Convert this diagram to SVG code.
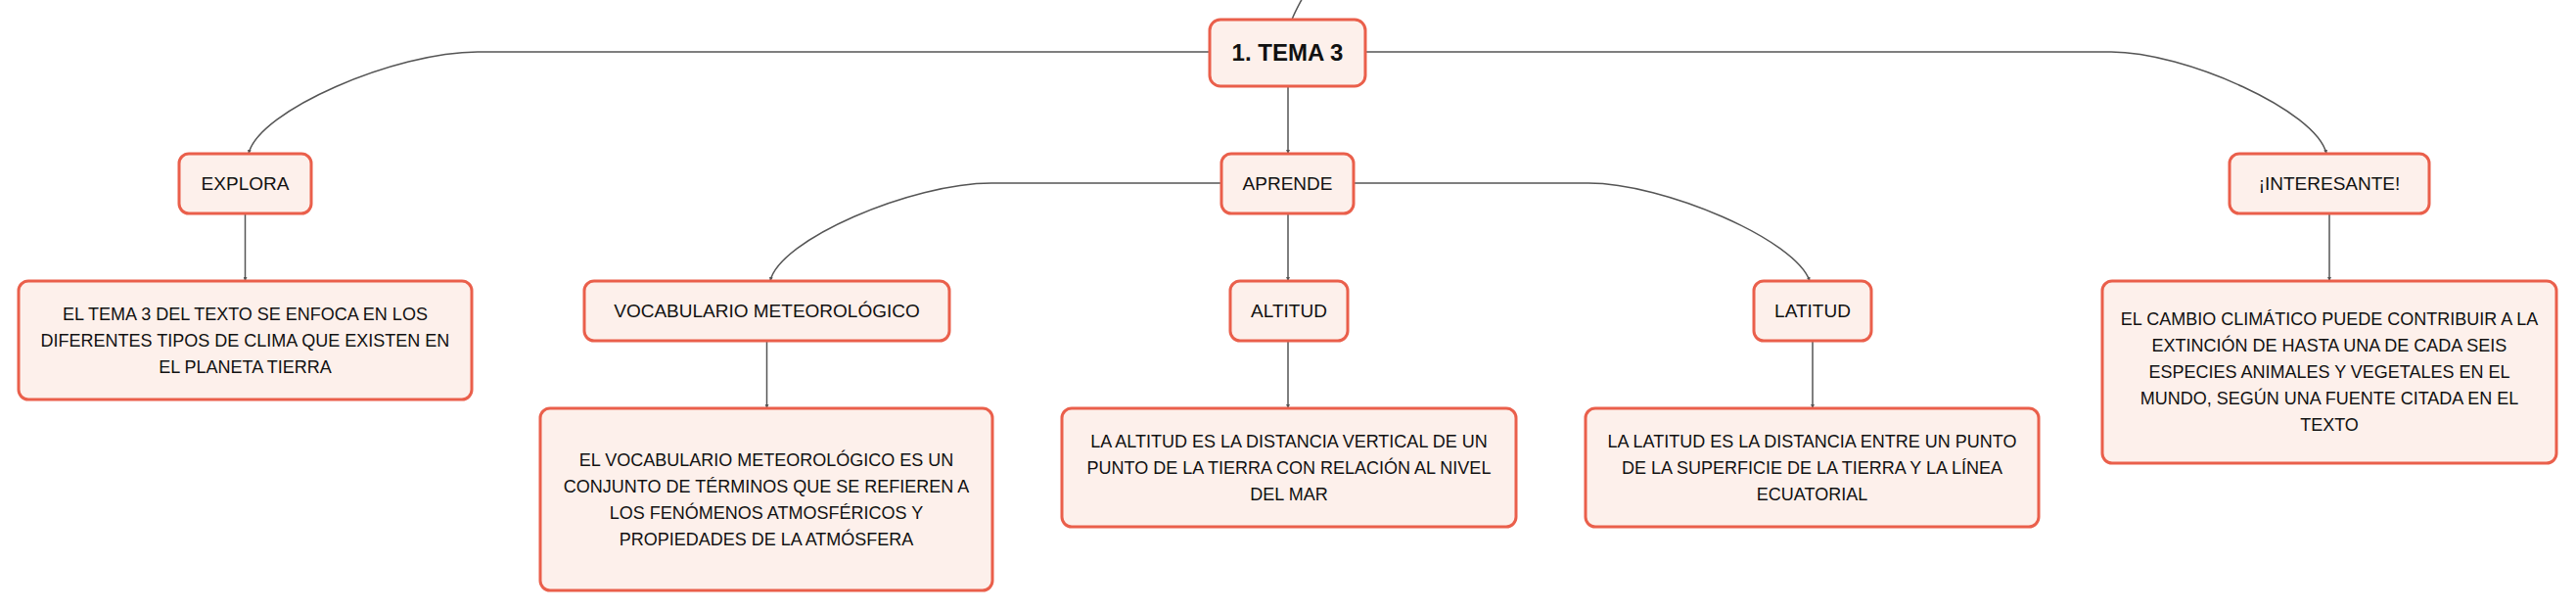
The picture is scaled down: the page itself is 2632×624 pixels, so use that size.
<svg xmlns="http://www.w3.org/2000/svg" width="2632" height="624" viewBox="0 0 2632 624">
<defs>
<marker id="tip" viewBox="0 0 6 6" refX="6" refY="3" markerWidth="4" markerHeight="4" orient="auto" markerUnits="userSpaceOnUse">
<path d="M0,0 L6,3 L0,6 z" fill="#555"/>
</marker>
</defs>
<style>
.box{fill:#fdf0eb;stroke:#ea5f4b;stroke-width:3}
.lbl{font-family:"Liberation Sans",Arial,sans-serif;font-size:19px;fill:#111;text-anchor:middle}
.root{font-family:"Liberation Sans",Arial,sans-serif;font-size:24px;font-weight:bold;fill:#111;text-anchor:middle}
.desc{font-family:"Liberation Sans",Arial,sans-serif;font-size:18px;fill:#111;text-anchor:middle}
.con{fill:none;stroke:#555;stroke-width:1.5}
</style>
<rect width="2632" height="624" fill="#ffffff"/>
<g id="connectors">
<path class="con" d="M1320,20 C1323,12 1327,5 1333,-6"/>
<path class="con" d="M1236,53 H488 C404,53 264,113 254,157" marker-end="url(#tip)"/>
<path class="con" d="M1395,53 H2157 C2232,53 2367,113 2377,157" marker-end="url(#tip)"/>
<path class="con" d="M1316,88 V157" marker-end="url(#tip)"/>
<path class="con" d="M250.5,218 V287" marker-end="url(#tip)"/>
<path class="con" d="M2380,218 V287" marker-end="url(#tip)"/>
<path class="con" d="M1248,187 H1013 C931,187 796,245 787,287" marker-end="url(#tip)"/>
<path class="con" d="M1383,187 H1623 C1700,187 1835,245 1849,287" marker-end="url(#tip)"/>
<path class="con" d="M1316,218 V287" marker-end="url(#tip)"/>
<path class="con" d="M783.5,348 V417" marker-end="url(#tip)"/>
<path class="con" d="M1316,348 V417" marker-end="url(#tip)"/>
<path class="con" d="M1852,348 V417" marker-end="url(#tip)"/>
</g>
<g id="root">
<rect class="box" x="1236" y="20" width="159" height="68" rx="11"/>
<text class="root" x="1315.5" y="62">1. TEMA 3</text>
</g>
<g id="explora">
<rect class="box" x="183" y="157" width="135" height="61" rx="10"/>
<text class="lbl" x="250.5" y="194">EXPLORA</text>
</g>
<g id="aprende">
<rect class="box" x="1248" y="157" width="135" height="61" rx="10"/>
<text class="lbl" x="1315.5" y="194">APRENDE</text>
</g>
<g id="interesante">
<rect class="box" x="2278" y="157" width="204" height="61" rx="10"/>
<text class="lbl" x="2380" y="194">¡INTERESANTE!</text>
</g>
<g id="vocabulario">
<rect class="box" x="597" y="287" width="373" height="61" rx="10"/>
<text class="lbl" x="783.5" y="324">VOCABULARIO METEOROLÓGICO</text>
</g>
<g id="altitud">
<rect class="box" x="1257" y="287" width="120" height="61" rx="10"/>
<text class="lbl" x="1317" y="324">ALTITUD</text>
</g>
<g id="latitud">
<rect class="box" x="1792" y="287" width="120" height="61" rx="10"/>
<text class="lbl" x="1852" y="324">LATITUD</text>
</g>
<g id="explora-desc">
<rect class="box" x="19" y="287" width="463" height="121" rx="10"/>
<text class="desc" x="250.5" y="326.5">EL TEMA 3 DEL TEXTO SE ENFOCA EN LOS</text>
<text class="desc" x="250.5" y="353.5">DIFERENTES TIPOS DE CLIMA QUE EXISTEN EN</text>
<text class="desc" x="250.5" y="380.5">EL PLANETA TIERRA</text>
</g>
<g id="vocabulario-desc">
<rect class="box" x="552" y="417" width="462" height="186" rx="10"/>
<text class="desc" x="783" y="475.5">EL VOCABULARIO METEOROLÓGICO ES UN</text>
<text class="desc" x="783" y="502.5">CONJUNTO DE TÉRMINOS QUE SE REFIEREN A</text>
<text class="desc" x="783" y="529.5">LOS FENÓMENOS ATMOSFÉRICOS Y</text>
<text class="desc" x="783" y="556.5">PROPIEDADES DE LA ATMÓSFERA</text>
</g>
<g id="altitud-desc">
<rect class="box" x="1085" y="417" width="464" height="121" rx="10"/>
<text class="desc" x="1317" y="456.5">LA ALTITUD ES LA DISTANCIA VERTICAL DE UN</text>
<text class="desc" x="1317" y="483.5">PUNTO DE LA TIERRA CON RELACIÓN AL NIVEL</text>
<text class="desc" x="1317" y="510.5">DEL MAR</text>
</g>
<g id="latitud-desc">
<rect class="box" x="1620" y="417" width="463" height="121" rx="10"/>
<text class="desc" x="1851.5" y="456.5">LA LATITUD ES LA DISTANCIA ENTRE UN PUNTO</text>
<text class="desc" x="1851.5" y="483.5">DE LA SUPERFICIE DE LA TIERRA Y LA LÍNEA</text>
<text class="desc" x="1851.5" y="510.5">ECUATORIAL</text>
</g>
<g id="interesante-desc">
<rect class="box" x="2148" y="287" width="464" height="186" rx="10"/>
<text class="desc" x="2380" y="332">EL CAMBIO CLIMÁTICO PUEDE CONTRIBUIR A LA</text>
<text class="desc" x="2380" y="359">EXTINCIÓN DE HASTA UNA DE CADA SEIS</text>
<text class="desc" x="2380" y="386">ESPECIES ANIMALES Y VEGETALES EN EL</text>
<text class="desc" x="2380" y="413">MUNDO, SEGÚN UNA FUENTE CITADA EN EL</text>
<text class="desc" x="2380" y="440">TEXTO</text>
</g>
</svg>
